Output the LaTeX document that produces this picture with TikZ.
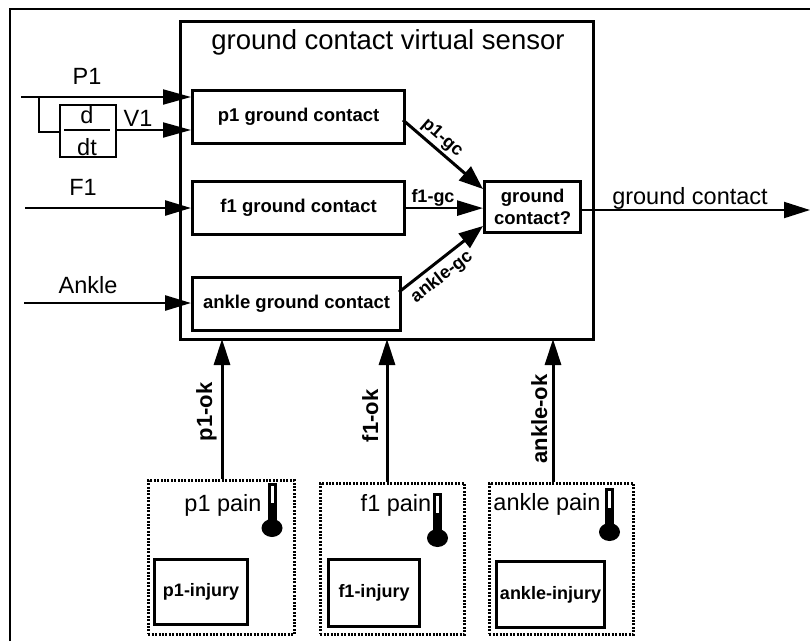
\documentclass[tikz,border=0pt]{standalone}
\usepackage{fontspec}
\setmainfont{Liberation Sans}
\usetikzlibrary{arrows.meta,calc}
\tikzset{
  x=1pt,y=-1pt,
  frame/.style={draw=black,line width=2pt},
  mainbox/.style={draw=black,line width=3pt,minimum width=413pt,minimum height=318pt,inner sep=0pt},
  gcbox/.style={draw=black,line width=3.2pt,inner sep=0pt,align=center,font=\fontsize{18.5}{22}\selectfont\bfseries},
  dotbox/.style={draw=black,line width=2.6pt,dash pattern=on 2pt off 1.4pt,inner sep=0pt},
  injbox/.style={draw=black,line width=3pt,inner sep=0pt,font=\fontsize{18}{20}\selectfont\bfseries},
  lbl/.style={inner sep=0pt,font=\fontsize{23.5}{25}\selectfont},
  oklbl/.style={inner sep=0pt,rotate=90,anchor=base,font=\fontsize{22}{24}\selectfont\bfseries},
  slbl/.style={inner sep=0pt,font=\fontsize{18}{21}\selectfont\bfseries},
  conn/.style={draw=black,line width=2.6pt,-{Triangle[length=26pt,width=15pt]}},
  up conn/.style={draw=black,line width=3pt,-{Triangle[length=26pt,width=16pt]}},
  thin conn/.style={draw=black,line width=2pt,-{Triangle[length=28pt,width=15pt]}},
  diag conn/.style={draw=black,line width=3pt,-{Triangle[length=24pt,width=18pt]}},
  line/.style={draw=black,line width=2.4pt},
}
\newcommand{\thermo}[3]{% tube x, tube top y, bulb y
  \fill[black] (#1-4.5,#2) rectangle (#1+4.5,#3);
  \fill[black] (#1,#3) ellipse [x radius=10.5pt,y radius=9pt];
  \fill[white] (#1-1.5,#2+3) rectangle (#1+1.5,#2+20);
}
\begin{document}
\begin{tikzpicture}
\useasboundingbox (0,0) rectangle (810,641);
\draw[frame] (10,641) -- (10,8.5) -- (810,8.5);
\node[mainbox,anchor=north west] (main) at (179,20) {};
\node[lbl,font=\fontsize{27.5}{29}\selectfont,anchor=base] (title) at (388,49) {ground contact virtual sensor};
\node[gcbox,minimum width=212pt,minimum height=53pt,anchor=north west] (p1gc) at (191,89) {p1 ground contact};
\node[gcbox,minimum width=212pt,minimum height=53pt,anchor=north west] (f1gc) at (191,180) {f1 ground contact};
\node[gcbox,minimum width=208pt,minimum height=53pt,anchor=north west] (angc) at (191,276) {ankle ground contact};
\node[gcbox,minimum width=96pt,minimum height=51pt,anchor=north west] (gc) at (483,180) {ground\\contact?};
\node[draw=black,line width=2.4pt,minimum width=56pt,minimum height=52pt,anchor=north west,inner sep=0pt] (ddt) at (59,104) {};
\coordinate (ddtL) at (64,130); \coordinate (ddtR) at (110,130);
\draw[line width=2.6pt] (ddtL) -- (ddtR);
\node[lbl,anchor=base] (dn) at (87,123) {d};
\node[lbl,anchor=base] (dd) at (87,155) {dt};
% inputs
\coordinate (p1s) at (21,97); \coordinate (f1s) at (25,208); \coordinate (ans) at (24,303);
\coordinate (p1e) at ($(p1gc.north west)+(0,8)$);
\coordinate (v1e) at ($(p1gc.north west)+(0,41)$);
\draw[thin conn] (p1s) -- (p1e);
\draw[line] (39,97) -- (39,132) -- (59,132);
\draw[thin conn] (115,130) -- (v1e);
\draw[conn] (f1s) -- (f1gc.west |- f1s);
\draw[conn] (ans) -- (angc.west |- ans);
\node[lbl,anchor=base] (P1) at (87,84) {P1};
\node[lbl,anchor=base] (V1) at (138,126) {V1};
\node[lbl,anchor=base] (F1) at (83,195) {F1};
\node[lbl,anchor=base] (Ank) at (88,293) {Ankle};
% to gc
\coordinate (gctop) at (483,189);
\coordinate (gcbot) at (483,226);
\draw[diag conn] (403,120) -- (gctop);
\draw[conn] (f1gc.east) -- (gc.west |- f1gc.east);
\draw[diag conn] (399,292) -- (gcbot);
\node[slbl,rotate=-41,anchor=center] (lp) at (442,138) {p1-gc};
\node[slbl,anchor=base] (lf) at (433,202) {f1-gc};
\node[slbl,rotate=38,anchor=center] (la) at (442,277) {ankle-gc};
% output
\coordinate (oute) at (810,210);
\draw[line width=2pt,-{Triangle[length=26pt,width=16pt]}] (gc.east |- oute) -- (oute);
\node[lbl,anchor=base] (lo) at (690,204) {ground contact};
% pain boxes
\node[dotbox,minimum width=146pt,minimum height=154pt,anchor=north west] (pp) at (147,479) {};
\node[dotbox,minimum width=144pt,minimum height=151pt,anchor=north west] (fp) at (319,482) {};
\node[dotbox,minimum width=144pt,minimum height=151pt,anchor=north west] (ap) at (488,482) {};
\node[injbox,minimum width=93pt,minimum height=65pt,anchor=north west] (pi) at (153,558) {p1-injury};
\node[injbox,minimum width=91pt,minimum height=67pt,anchor=north west] (fi) at (327,558) {f1-injury};
\node[injbox,minimum width=108pt,minimum height=66pt,anchor=north west] (ai) at (495,560) {ankle-injury};
\node[lbl,anchor=base] (pl) at (223,511) {p1 pain};
\node[lbl,anchor=base] (fl) at (396,511) {f1 pain};
\node[lbl,anchor=base] (al) at (547,510) {ankle pain};
\thermo{272}{483}{528}
\thermo{437.5}{493}{538}
\thermo{609.5}{488}{532}
% up arrows
\coordinate (pt) at (222,339); \coordinate (ft) at (387,339); \coordinate (at) at (553,339);
\draw[up conn] (pp.north -| pt) -- (pt);
\draw[up conn] (fp.north -| ft) -- (ft);
\draw[up conn] (ap.north -| at) -- (at);
\node[oklbl] (lpo) at (212,412) {p1-ok};
\node[oklbl] (lfo) at (378,416) {f1-ok};
\node[oklbl] (lao) at (547,419) {ankle-ok};
\end{tikzpicture}
\end{document}
